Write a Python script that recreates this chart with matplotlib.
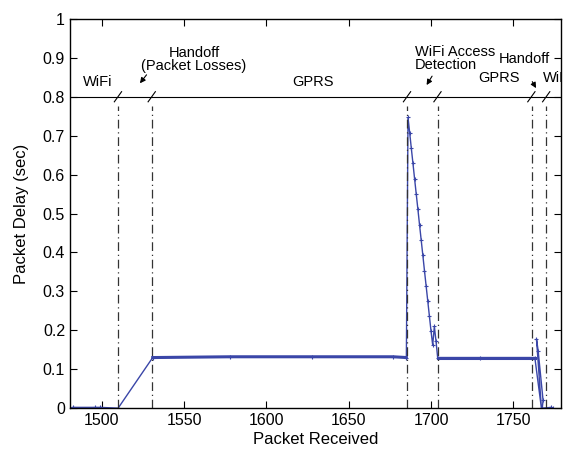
import numpy as np
import matplotlib
matplotlib.use('Agg')
import matplotlib.pyplot as plt

plt.rcParams['font.family'] = ['Liberation Sans', 'DejaVu Sans']

# delay trace (packet index, delay in sec)
pkt = [1481, 1482.5, 1496, 1499, 1510, 1531, 1578, 1628, 1677, 1685,
       1686, 1687, 1688, 1689, 1690, 1691, 1692, 1693, 1694, 1695, 1696,
       1697, 1698, 1699, 1700, 1701, 1702, 1703, 1704, 1730, 1763,
       1767, 1764, 1765, 1768, 1767.5, 1773, 1774]
delay = [0.0, 0.002, 0.002, 0.002, 0.0, 0.13, 0.132, 0.132, 0.132, 0.13,
         0.747, 0.708, 0.668, 0.629, 0.589, 0.55, 0.511, 0.471, 0.432, 0.393, 0.353,
         0.314, 0.275, 0.236, 0.197, 0.162, 0.21, 0.172, 0.13, 0.13, 0.13,
         0.0, 0.178, 0.148, 0.02, 0.0, 0.002, 0.0]

# densely sampled steady GPRS stretches (drawn heavier, many packets)
flat1_x = [1531, 1578, 1628, 1677, 1685]
flat1_y = [0.13, 0.132, 0.132, 0.132, 0.13]
flat2_x = [1704, 1730, 1763]
flat2_y = [0.13, 0.13, 0.13]

# event boundaries (packet index)
events = [1510, 1530.5, 1685.5, 1704, 1761, 1770]
level = 0.8

# zone labels
labels = ['WiFi', 'GPRS', 'GPRS']
label_x = [1497.8, 1628.5, 1741.4]
label_y = [0.838, 0.838, 0.848]

blue = '#3a46a8'

fig = plt.figure(figsize=(5.68, 4.5), dpi=100)
ax = fig.add_axes([0.123, 0.093, 0.865, 0.865])

ax.plot(pkt, delay, color=blue, lw=1.0, marker='+', ms=2.5, mew=0.8)
ax.plot(flat1_x, flat1_y, color=blue, lw=2.2)
ax.plot(flat2_x, flat2_y, color=blue, lw=2.2)

ax.axhline(level, color='k', lw=0.8)
for e in events:
    ax.plot([e, e], [0, 0.775], color='#333333', lw=0.9, ls=(0, (7, 3, 1, 3)))
    ax.plot([e - 2.3, e + 2.1], [level - 0.013, level + 0.013], color='k', lw=0.8)

for t, x, y in zip(labels, label_x, label_y):
    ax.text(x, y, t, ha='center', va='center', fontsize=10.5)
ax.text(1768.0, 0.848, 'WiFi', ha='left', va='center', fontsize=10.5, clip_on=True)
ax.text(1556, 0.895, 'Handoff\n(Packet Losses)', ha='center', va='center',
        fontsize=10.5, linespacing=0.95)
ax.text(1690.3, 0.898, 'WiFi Access\nDetection', ha='left', va='center',
        fontsize=10.5, linespacing=0.95)
ax.text(1756.4, 0.896, 'Handoff', ha='center', va='center', fontsize=10.5)

arw = dict(arrowstyle='-|>', color='k', lw=0.8, mutation_scale=8)
ax.annotate('', xy=(1522.2, 0.829), xytext=(1528.3, 0.862), arrowprops=arw)
ax.annotate('', xy=(1696.4, 0.824), xytext=(1701.5, 0.859), arrowprops=arw)
ax.annotate('', xy=(1764.6, 0.816), xytext=(1760.6, 0.845), arrowprops=arw)

ax.set_xlim(1480.7, 1779)
ax.set_ylim(0, 1)
ax.set_xticks(np.arange(1500, 1751, 50))
ax.set_yticks(np.arange(0, 1.01, 0.1))
ax.set_yticklabels(['0', '0.1', '0.2', '0.3', '0.4', '0.5', '0.6', '0.7', '0.8', '0.9', '1'])
ax.tick_params(direction='in', top=True, right=True, labelsize=11.5, length=5)
ax.set_xlabel('Packet Received', fontsize=12, labelpad=3)
ax.set_ylabel('Packet Delay (sec)', fontsize=12, labelpad=10)
for s in ax.spines.values():
    s.set_linewidth(1.0)

fig.savefig('out.png', dpi=100)
